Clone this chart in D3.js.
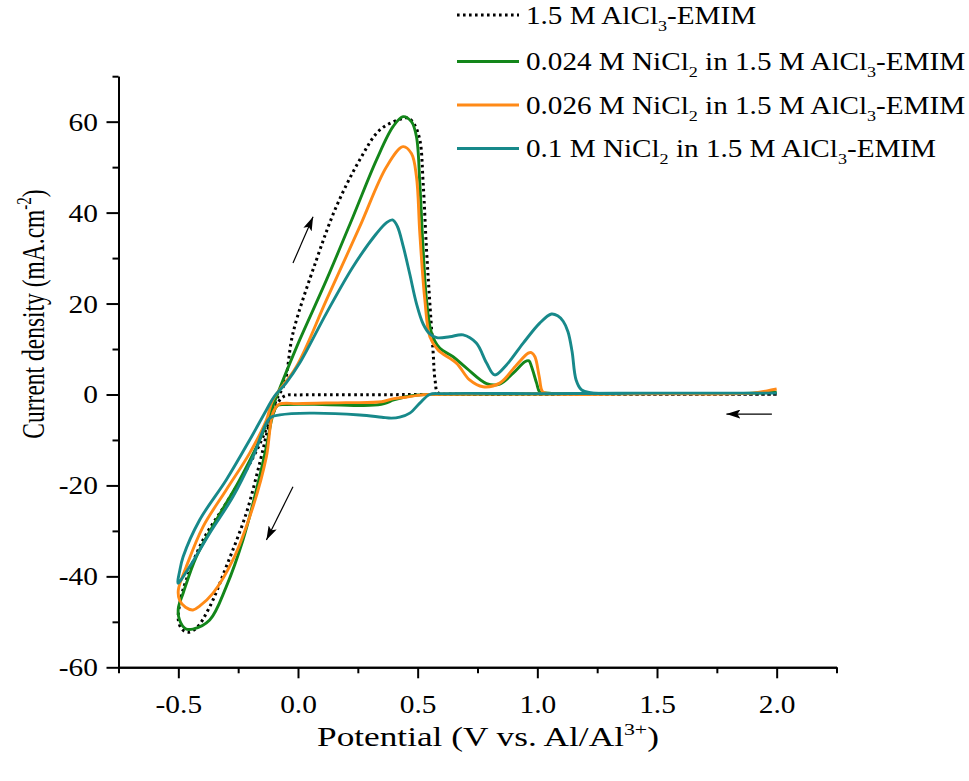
<!DOCTYPE html>
<html>
<head>
<meta charset="utf-8">
<script src="https://cdn.jsdelivr.net/npm/d3@7"></script>
<style>
  html, body { margin: 0; padding: 0; background: #fff; }
  svg { display: block; }
  text { font-family: "Liberation Serif", "Times New Roman", serif; fill: #000; }
</style>
</head>
<body>
<svg id="chart" width="969" height="781"></svg>
<script>
// Cyclic voltammograms: [potential (V vs. Al/Al3+), current density (mA/cm2)],
// each loop starts at 2.0 V, sweeps cathodically to -0.5 V and back.
const blankCV = [
  [2.0, 0.05], [1.5, 0.05], [1.0, 0.05], [0.6, 0.0], [0.3, -0.05], [0.0, -0.1], [-0.05, -0.2],
  [-0.08, -1.5], [-0.118, -6.3], [-0.16, -15.1], [-0.216, -26.1], [-0.3, -37.9], [-0.369, -46.7],
  [-0.425, -51.4], [-0.46, -52.3], [-0.485, -51.6], [-0.5, -49.6], [-0.49, -45], [-0.467, -40.8],
  [-0.397, -32], [-0.3, -23.9], [-0.216, -16.6], [-0.146, -9.3], [-0.09, -1.2], [-0.056, 2.5],
  [-0.021, 13.5], [0.077, 29.6], [0.16, 41.3], [0.258, 51.6], [0.342, 58.2], [0.425, 60.5],
  [0.46, 60.8], [0.485, 59.5], [0.509, 56], [0.523, 46.4], [0.537, 31.8], [0.55, 20.8],
  [0.564, 9.8], [0.573, 3], [0.585, 0.4], [0.65, 0.1], [1.0, 0.05], [1.5, 0.05], [2.0, 0.05]
];
const ni024CV = [
  [2.0, 0.5], [1.9, 0.3], [1.5, 0.2], [1.0, 0.1], [0.6, 0.05], [0.5, -0.1], [0.45, -0.5],
  [0.4, -1.2], [0.36, -2.0], [0.3, -2.4], [0.1, -2.2], [-0.05, -2.2], [-0.085, -2.4],
  [-0.105, -4.5], [-0.132, -11.5], [-0.174, -21], [-0.23, -32], [-0.3, -42.3], [-0.369, -49.6],
  [-0.439, -51.6], [-0.47, -51.5], [-0.495, -49.6], [-0.5, -47], [-0.48, -43.7], [-0.425, -35.7],
  [-0.341, -27.6], [-0.244, -18.8], [-0.16, -10], [-0.111, -3.4], [-0.09, -0.5], [-0.05, 4.8],
  [0.007, 12], [0.119, 25.2], [0.23, 39.1], [0.328, 51.6], [0.397, 58.9], [0.439, 61.1],
  [0.474, 60], [0.495, 56.7], [0.509, 46.4], [0.523, 31.8], [0.537, 20.8], [0.558, 13.5],
  [0.592, 10.2], [0.648, 8.3], [0.704, 5.8], [0.788, 2.4], [0.843, 2.3], [0.899, 4.7],
  [0.948, 7.2], [0.965, 7.4], [0.976, 6.1], [0.997, 2.5], [1.01, 0.6], [1.05, 0.3],
  [1.5, 0.25], [1.9, 0.3], [2.0, 0.5]
];
const ni026CV = [
  [2.0, 1.2], [1.96, 0.8], [1.9, 0.3], [1.5, 0.15], [1.0, 0.1], [0.55, 0.0], [0.5, -0.2],
  [0.45, -0.6], [0.4, -0.9], [0.35, -1.6], [0.2, -1.8], [0.0, -2.0], [-0.08, -2.2],
  [-0.105, -4.1], [-0.132, -13.7], [-0.188, -24.7], [-0.272, -36.4], [-0.355, -43.7],
  [-0.41, -46.5], [-0.439, -47.4], [-0.47, -46.8], [-0.495, -45.2], [-0.5, -43], [-0.467, -37.9],
  [-0.397, -29.1], [-0.3, -21], [-0.202, -12.9], [-0.132, -5.6], [-0.105, -1.2], [-0.007, 6.1],
  [0.119, 20.8], [0.258, 36.9], [0.37, 50.1], [0.439, 54.5], [0.474, 53], [0.495, 47.9],
  [0.509, 35.4], [0.53, 20.8], [0.551, 12.7], [0.585, 9.8], [0.662, 6.9], [0.717, 3.2],
  [0.773, 1.7], [0.843, 2.5], [0.913, 6.5], [0.962, 9.1], [0.975, 9.2], [0.99, 8.3],
  [1.008, 3.9], [1.022, 0.6], [1.05, 0.2], [1.5, 0.15], [1.9, 0.3], [1.96, 0.8], [2.0, 1.2]
];
const ni100CV = [
  [2.0, 0.3], [1.5, 0.3], [1.0, 0.2], [0.6, 0.2], [0.55, 0.0], [0.509, -1.9], [0.467, -4.1],
  [0.425, -5.0], [0.39, -5.2], [0.35, -5.0], [0.258, -4.5], [0.048, -4.1], [-0.076, -4.5],
  [-0.118, -5.2], [-0.188, -13.7], [-0.272, -22.5], [-0.369, -30.5], [-0.453, -37.9],
  [-0.502, -41.5], [-0.495, -39], [-0.48, -35.7], [-0.411, -27.6], [-0.3, -18.8], [-0.202, -10],
  [-0.132, -3.4], [-0.1, -0.5], [-0.05, 2.5], [0.007, 6.9], [0.119, 17.9], [0.23, 28.1],
  [0.328, 35.4], [0.37, 37.8], [0.395, 38.4], [0.415, 37.0], [0.44, 32.5], [0.467, 26.5],
  [0.495, 20.0], [0.523, 15.5], [0.551, 13.3], [0.58, 12.5], [0.634, 12.7], [0.69, 13.1],
  [0.745, 11.3], [0.788, 6.9], [0.822, 4.3], [0.871, 6.5], [0.941, 11.3], [1.01, 15.7],
  [1.059, 17.7], [1.085, 17.3], [1.108, 16.1], [1.128, 13.8], [1.145, 9.5], [1.162, 3.2],
  [1.185, 1.0], [1.22, 0.4], [1.5, 0.3], [2.0, 0.3]
];

// Series labels (sub = subscript piece) and colours
const seriesNames = [
  [["1.5 M AlCl"], ["3", "sub"], ["-EMIM"]],
  [["0.024 M NiCl"], ["2", "sub"], [" in 1.5 M AlCl"], ["3", "sub"], ["-EMIM"]],
  [["0.026 M NiCl"], ["2", "sub"], [" in 1.5 M AlCl"], ["3", "sub"], ["-EMIM"]],
  [["0.1 M NiCl"], ["2", "sub"], [" in 1.5 M AlCl"], ["3", "sub"], ["-EMIM"]]
];
const seriesColors = ["#000000", "#13861a", "#ff8a17", "#17898a"];
const seriesData = [blankCV, ni024CV, ni026CV, ni100CV];

// Axis ticks
const xMajorTicks = [-0.5, 0.0, 0.5, 1.0, 1.5, 2.0];
const xMinorTicks = [-0.75, -0.25, 0.25, 0.75, 1.25, 1.75, 2.25];
const yMajorTicks = [-60, -40, -20, 0, 20, 40, 60];
const yMinorTicks = [-50, -30, -10, 10, 30, 50, 70];

// Scan-direction arrows: [from, to] in data units
const scanArrows = [
  [[-0.021, 28.9], [0.063, 39.1]],
  [[-0.021, -20.3], [-0.132, -32.0]],
  [[1.98, -4.3], [1.79, -4.3]]
];

const svg = d3.select("#chart");
const x = d3.scaleLinear().domain([-0.75, 2.25]).range([118.5, 836.5]);
const y = d3.scaleLinear().domain([-60, 70]).range([667.3, 76.2]);
const SX = 1.2; // horizontal text stretch

// Axes
const axisG = svg.append("g");
const xAxisMajor = axisG.append("g").attr("transform", `translate(0,${y(-60)})`)
  .call(d3.axisBottom(x).tickValues(xMajorTicks).tickSize(11).tickSizeOuter(0)
    .tickFormat(d3.format(".1f")));
axisG.append("g").attr("transform", `translate(0,${y(-60)})`)
  .call(d3.axisBottom(x).tickValues(xMinorTicks).tickSize(6).tickSizeOuter(0).tickFormat(""));
const yAxisMajor = axisG.append("g").attr("transform", `translate(${x(-0.75)},0)`)
  .call(d3.axisLeft(y).tickValues(yMajorTicks).tickSize(12).tickSizeOuter(0)
    .tickFormat(d3.format("d")));
axisG.append("g").attr("transform", `translate(${x(-0.75)},0)`)
  .call(d3.axisLeft(y).tickValues(yMinorTicks).tickSize(6).tickSizeOuter(0).tickFormat(""));

axisG.selectAll(".domain, .tick line").attr("stroke", "#000").attr("stroke-width", 2);
axisG.selectAll("text").style("font-size", "24.5px").attr("fill", "#000")
  .style("font-family", '"Liberation Serif", "Times New Roman", serif');
xAxisMajor.selectAll("text").attr("dy", null).attr("y", 46)
  .attr("transform", `scale(${SX},1)`)
  .text(d => d3.format(".1f")(d).replace("−", "-"));
yAxisMajor.selectAll("text").attr("dy", null).attr("y", 8.5).attr("x", -17.2)
  .attr("transform", `scale(${SX},1)`)
  .text(d => String(d));

// Curves
const line = d3.line().x(d => x(d[0])).y(d => y(d[1])).curve(d3.curveCatmullRom.alpha(0.5));
const curves = svg.append("g");
seriesData.forEach((data, i) => {
  const p = curves.append("path").datum(data).attr("d", line)
    .attr("fill", "none").attr("stroke", seriesColors[i])
    .attr("stroke-linejoin", "round");
  if (i === 0) {
    p.attr("stroke-width", 3).attr("stroke-dasharray", "2.6,3.4");
  } else {
    p.attr("stroke-width", 2.9);
  }
});

// Arrows
svg.append("defs").append("marker")
  .attr("id", "arrowhead").attr("viewBox", "0 0 14 9")
  .attr("refX", 14).attr("refY", 4.5)
  .attr("markerWidth", 14).attr("markerHeight", 9)
  .attr("markerUnits", "userSpaceOnUse").attr("orient", "auto")
  .append("path").attr("d", "M0,0 L14,4.5 L0,9 L3,4.5 Z").attr("fill", "#000");
svg.append("g").selectAll("line").data(scanArrows).join("line")
  .attr("x1", d => x(d[0][0])).attr("y1", d => y(d[0][1]))
  .attr("x2", d => x(d[1][0])).attr("y2", d => y(d[1][1]))
  .attr("stroke", "#000").attr("stroke-width", 1.2)
  .attr("marker-end", "url(#arrowhead)");

// Helper for stretched rich text
function richText(parent, tx, ty, anchor, size, sx, parts) {
  const g = parent.append("g")
    .attr("transform", `translate(${tx},${ty}) scale(${sx},1)`);
  const t = g.append("text").attr("text-anchor", anchor).style("font-size", size + "px");
  let shift = 0;
  parts.forEach(([str, kind]) => {
    const sp = t.append("tspan").text(str);
    if (kind === "sub" || kind === "sup") {
      const target = kind === "sub" ? size * 0.3 : -size * 0.4;
      sp.attr("dy", target - shift).style("font-size", (size * 0.62) + "px");
      shift = target;
    } else if (shift !== 0) {
      sp.attr("dy", -shift);
      shift = 0;
    }
  });
  return t;
}

// Legend
const legendRowY = [15, 61.5, 105, 148.5];
const legend = svg.append("g");
seriesNames.forEach((parts, i) => {
  const ly = legendRowY[i];
  const l = legend.append("line")
    .attr("x1", 457).attr("x2", 519).attr("y1", ly).attr("y2", ly)
    .attr("stroke", seriesColors[i]).attr("stroke-width", 3);
  if (i === 0) l.attr("stroke-dasharray", "2.6,3.4");
  richText(legend, 526, ly + 8.5, "start", 24.3, SX, parts);
});

// Axis titles
richText(svg, 488, 746, "middle", 28, 1.26,
  [["Potential (V vs. Al/Al"], ["3+", "sup"], [")"]]);
const yTitle = svg.append("g").attr("transform", `translate(44,314) scale(1.36,1) rotate(-90)`);
const yt = yTitle.append("text").attr("text-anchor", "middle").style("font-size", "23.5px");
yt.append("tspan").text("Current density (mA.cm");
yt.append("tspan").text("-2").attr("dy", -9.5).style("font-size", "15px");
yt.append("tspan").text(")").attr("dy", 9.5);
</script>
</body>
</html>
